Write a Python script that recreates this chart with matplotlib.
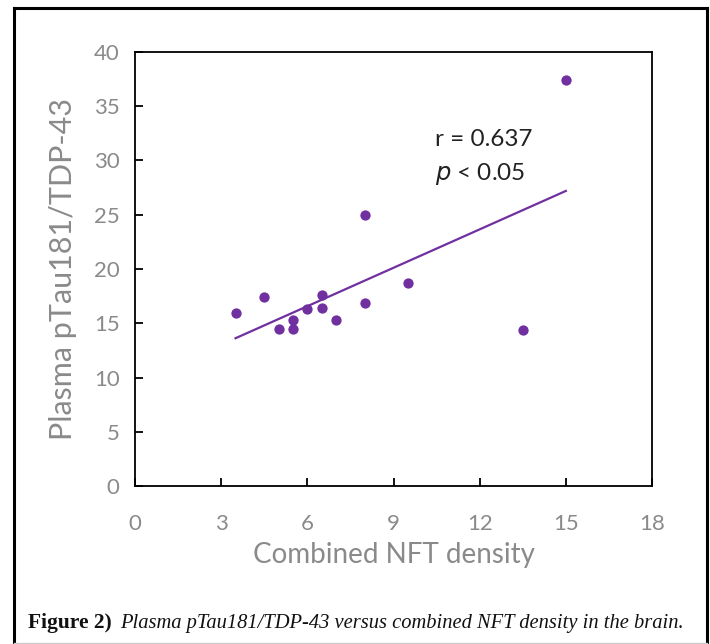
import matplotlib.pyplot as plt
import numpy as np
from matplotlib.lines import Line2D

# ===== data =====
nft_density = [3.5, 4.5, 5.0, 5.5, 5.5, 6.0, 6.5, 6.5, 7.0, 8.0, 8.0, 9.5, 13.5, 15.0]
ptau_tdp = [15.9, 17.4, 14.5, 15.3, 14.5, 16.3, 17.6, 16.4, 15.3, 16.9, 25.0, 18.7, 14.4, 37.4]
x_ticks = [0, 3, 6, 9, 12, 15, 18]
y_ticks = [0, 5, 10, 15, 20, 25, 30, 35, 40]
stat_lines = ["r = 0.637", "p < 0.05"]

PURPLE = "#7030A0"
GRAY = "#8a8a8a"
SANS = ["Lato", "DejaVu Sans"]

fig = plt.figure(figsize=(7.1, 6.44), dpi=100)
W, H = 710, 644

ax = fig.add_axes([135 / W, 1 - 486 / H, (652 - 135) / W, (486 - 52) / H])

ax.scatter(nft_density, ptau_tdp, s=55, color=PURPLE, zorder=3, linewidths=0)

# linear fit
slope, intercept = np.polyfit(nft_density, ptau_tdp, 1)
xs = np.array([min(nft_density), max(nft_density)])
ax.plot(xs, slope * xs + intercept, color=PURPLE, lw=1.6, zorder=2)

ax.set_xlim(0, 18)
ax.set_ylim(0, 40)
ax.set_xticks(x_ticks)
ax.set_yticks(y_ticks)
ax.tick_params(direction="in", length=6, width=1.3, colors="black",
               labelcolor=GRAY, labelsize=16)
ax.tick_params(axis="x", pad=20)
ax.tick_params(axis="y", pad=11)
for lab in ax.get_xticklabels() + ax.get_yticklabels():
    lab.set_family(SANS)
for sp in ax.spines.values():
    sp.set_linewidth(1.3)

ax.set_xlabel("Combined NFT density", fontsize=20, color=GRAY, family=SANS,
              labelpad=6)
ax.set_ylabel("Plasma pTau181/TDP-43", fontsize=22, color=GRAY, family=SANS,
              labelpad=12)

ax.text(10.45, 31.3, stat_lines[0], fontsize=17.5, color="#222222", family=SANS)
ax.text(10.45, 28.2, "$p$" + stat_lines[1][1:], fontsize=17.5, color="#222222",
        family=SANS)

# outer frame
fig.add_artist(Line2D([14 / W, 14 / W], [0, 1 - 8 / H], transform=fig.transFigure,
                      color="black", lw=2.2))
fig.add_artist(Line2D([707 / W, 707 / W], [0, 1 - 8 / H], transform=fig.transFigure,
                      color="black", lw=2.2))
fig.add_artist(Line2D([14 / W, 707 / W], [1 - 8 / H, 1 - 8 / H], transform=fig.transFigure,
                      color="black", lw=2.2))
fig.add_artist(Line2D([14 / W, 707 / W], [1.5 / H, 1.5 / H], transform=fig.transFigure,
                      color="#cccccc", lw=1.0))

# caption
fig.text(28 / W, 1 - 628 / H, "Figure 2)", fontsize=15.5, fontweight="bold",
         family="Liberation Serif", color="#111111")
fig.text(120 / W, 1 - 628 / H,
         "Plasma pTau181/TDP-43 versus combined NFT density in the brain.",
         fontsize=14.8, style="italic", family="Liberation Serif", color="#111111")

fig.savefig("out.png", dpi=100)
